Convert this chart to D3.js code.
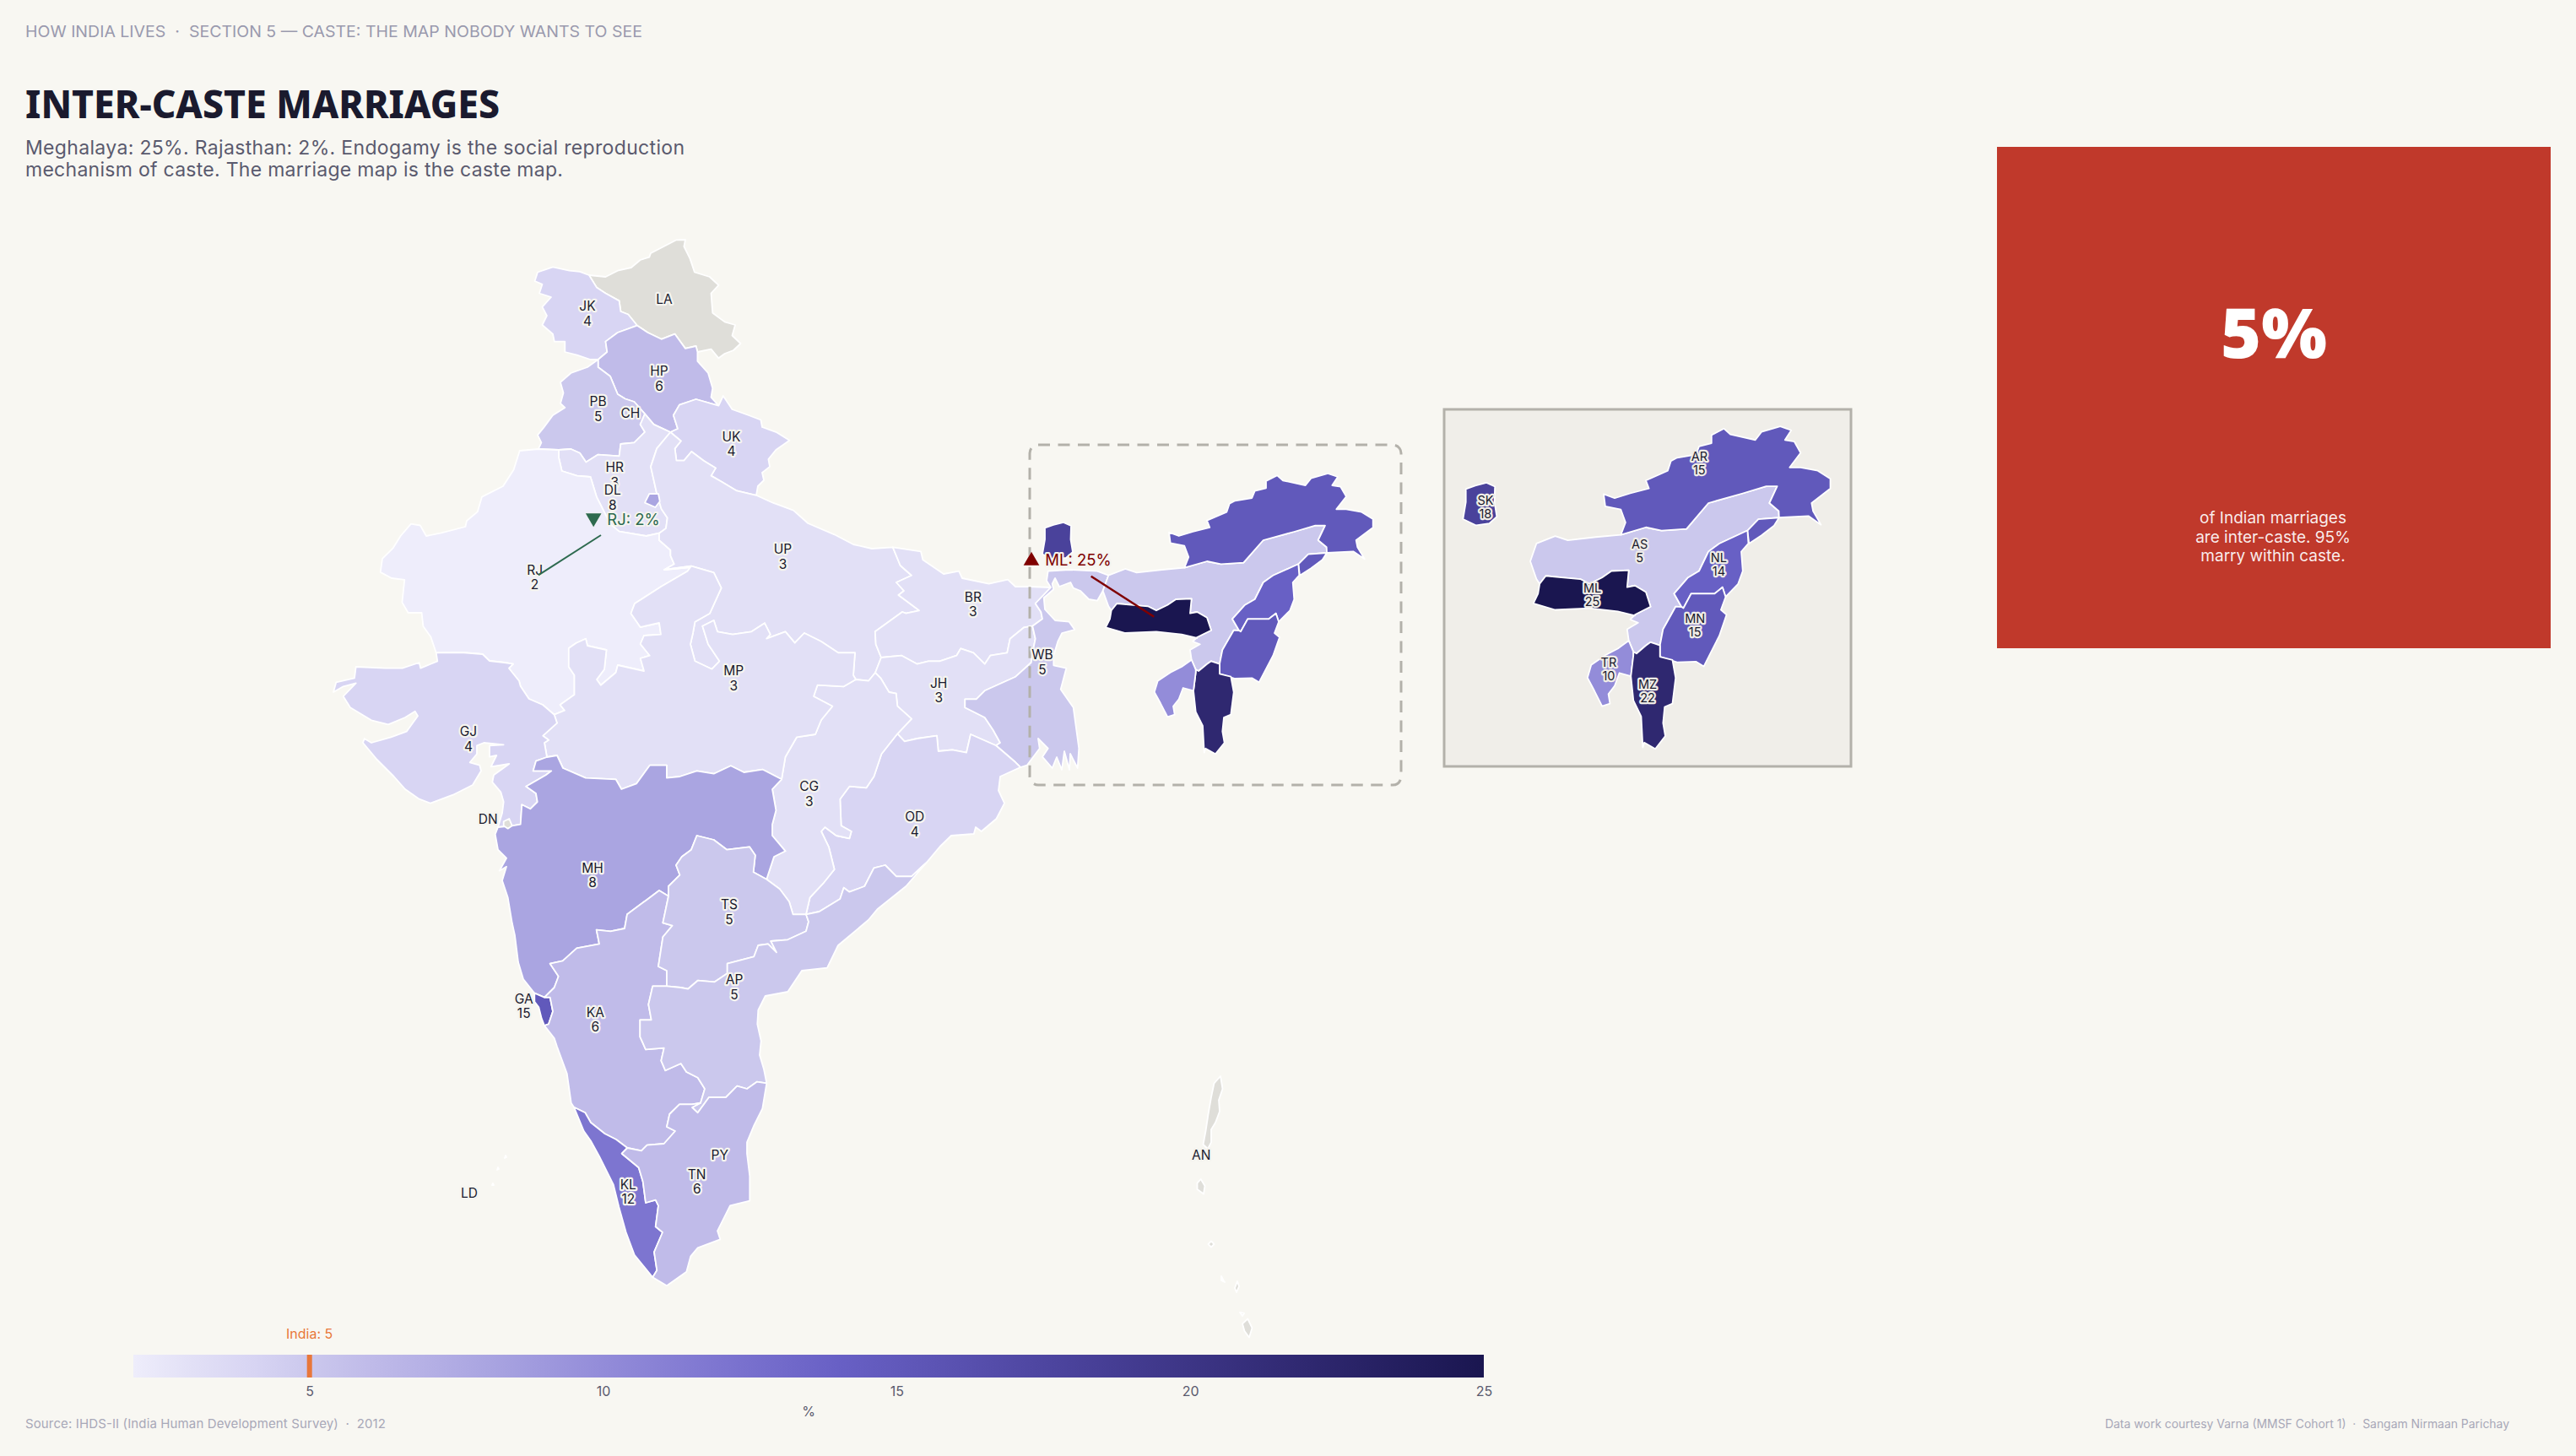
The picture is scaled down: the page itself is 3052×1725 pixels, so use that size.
<!DOCTYPE html>
<html><head><meta charset="utf-8">
<style>html,body{margin:0;padding:0;background:#f8f7f2}svg{display:block}text{font-family:Inter,"Noto Sans",sans-serif}</style>
<script src="https://cdn.jsdelivr.net/npm/d3@7"></script>
</head><body><svg id="c" width="3052" height="1725"></svg>
<script>
// ---- values ----
const codes  = ["JK","HP","PB","UK","HR","DL","RJ","UP","BR","SK","AR","NL","MN","MZ","TR","ML","AS","WB","JH","OD","CG","MP","GJ","MH","GA","KA","TS","AP","KL","TN"];
const values = [4,6,5,4,3,8,2,3,3,18,15,14,15,22,10,25,5,5,3,4,3,3,4,8,15,6,5,5,12,6];
const colorDomain = [2,3,4,5,6,8,10,12,14,15,18,22,25];
const colorRange  = ["#eeedfb","#e2e0f6","#d8d5f3","#cbc8ed","#c0bbe9","#aaa5e1","#938cd9","#7d75d0","#6860c5","#6159bb","#4a429b","#2f2870","#1a1650"];
const legendTicks = [5,10,15,20,25];
const nationalValue = 5;

// ---- boundary arcs (survey units, shared between neighbours) ----
const arcs = {
 jk_w:[[697.9,326],[687,321.8],[674.6,320.7],[655,316.4],[637,322.5],[633.6,333],[642.5,336.8],[639,347.5],[653,352],[642.5,363.6],[647.9,374],[642.5,385],[655,395.7],[656.8,404.6],[669.3,404.6],[669.3,417],[683.6,420.7],[699.6,426],[708.6,426]],
 jk_la:[[697.9,326],[706.8,340.4],[717.5,347.5],[733.6,356.4],[735.4,369],[744.3,372.5],[755,385.7]],
 jk_hp:[[755,385.7],[731.8,394],[717.5,404.6],[719.3,417],[708.6,426]],
 la_o:[[697.9,326],[717.5,328],[731.8,320.7],[747.9,317],[758.6,308],[769.3,304.6],[771,300],[801.4,284.3],[812,284],[810.4,292],[817.5,306.4],[822.9,322.5],[840.7,328],[851.4,337.9],[842.5,347.5],[844.3,370.7],[858.6,381.4],[871,385],[867.5,397.5],[877.5,407],[869,415],[858.6,419],[851.4,424.3],[842.5,413.6],[826.4,417]],
 la_hp:[[826.4,417],[824.6,410],[812,412.9],[799.6,395.7],[783.6,401.8],[767.5,394],[755,385.7]],
 hp_e:[[826.4,417],[826.4,427.9],[839,442],[844.3,460],[842.5,470.7],[851.4,480.7]],
 hp_uk:[[851.4,480.7],[824.6,473],[805,479.6],[797.9,492],[803,508],[794.3,512]],
 hp_hr:[[794.3,512],[774.6,502.9],[764,490.4]],
 hp_pb:[[764,490.4],[751.4,476],[740.7,472.5],[731.8,467],[722.9,445.7],[708.6,435],[708.6,426]],
 pb_o:[[708.6,426],[696,435],[676.4,442],[664,452.9],[667.5,465.4],[664,477.9],[669.3,483],[655,492],[644.3,506.4],[637,515.4],[641.4,524.3],[637.9,532]],
 pb_rj:[[637.9,532],[662,533]],
 pb_hr:[[662,533],[676.4,532],[687,536.8],[694.3,547.5],[708.6,538.6],[733.6,540.4],[735.4,526],[751.4,524.3],[764,511.8],[758.6,502.9],[764,490.4]],
 hr_rj:[[662,533],[662,542],[665.7,558],[683.6,563.6],[699.6,565],[706.8,588.6],[714,602.9],[722.9,620.7],[733.6,629.6],[765.7,635],[781,631.7]],
 hr_up:[[781,631.7],[789,626],[790.7,613.6],[783.6,602.9],[778.2,585],[771,552.9],[778.2,531.4],[794.3,512]],
 uk_o:[[851.4,480.7],[856.8,469],[867.5,485],[887,492],[901.4,497.5],[903,506],[919.3,511.8],[935.4,521.8],[919.3,533],[910.4,544],[912,552.9],[903,560],[905,569],[897.9,576],[896,586.8]],
 uk_up:[[896,586.8],[872.9,581.4],[855,570.7],[842.5,563.6],[847.9,554.6],[833.6,545.7],[819.3,535],[810.4,545.7],[801.4,545.7],[799.6,531.4],[806.8,522.5],[794.3,512]],
 rj_o:[[637.9,532],[615.7,534],[608.6,556.4],[596,576],[571,588.6],[565.7,606.4],[553,617],[551.4,624],[522.9,631.4],[505,635],[497.9,622.5],[487,620.7],[474.6,635],[465.7,649.3],[453,661.8],[450.7,677.9],[464,685],[479.3,686.8],[476.4,713.6],[483.6,726],[499.6,726],[501.4,742],[510.4,754.6],[516.7,773.3]],
 rj_gj:[[516.7,773.3],[546.7,773],[571.7,775],[580,783],[598,785],[608,786.7],[603,791.7],[615,806.7],[616.7,813],[626.7,828],[643,835],[656.7,846.7]],
 rj_mp:[[656.7,846.7],[669,841.7],[663.6,835],[680.5,823],[680.5,800],[673.8,790],[673.8,768],[682.8,761.7],[694,756.7],[696,765],[718.5,770],[716,793],[707,805],[711.8,811.7],[729.6,796.7],[731.9,788],[763,795],[758.7,780],[769.8,776.7],[758.7,763],[763,753],[783,751.7],[781,738],[758.7,743],[747.5,726.7],[752,715],[783.2,695],[814.5,676.7],[818,672],[787,675]],
 rj_up:[[787,675],[798.8,668.3],[794.4,658.3],[794.4,651.7],[781,640],[781,631.7]],
 up_n:[[896,586.8],[915.7,595.7],[940,604.6],[957.3,620],[988.6,633.3],[1011,645],[1033,650],[1057.8,648.3]],
 up_br:[[1057.8,648.3],[1066.7,670],[1080,681.7],[1062,690],[1071,700],[1064.5,705],[1089,723.3],[1073.4,726.7],[1069,725],[1036.8,748.3],[1037.7,763.3],[1044,779]],
 up_jh:[[1044,779],[1037,797]],
 up_cg:[[1037,797],[1029,806.7],[1014,805]],
 up_mp:[[787,675],[819,670.7],[845.7,678.3],[854.6,696.7],[841,726.7],[823.4,736.7],[821,750],[818,763.3],[823.4,783.3],[843.5,792.7],[852.4,783.3],[839,763.3],[832.3,741.7],[845.7,735],[850,748.3],[868,751.7],[890.4,748.3],[906,738.3],[912.7,751.7],[908.2,756.7],[930.5,748.3],[941.7,761.7],[952.9,750],[973,760],[993,773.3],[1013,773.3],[1011,800],[1014,805]],
 br_n:[[1057.8,648.3],[1091,653.3],[1093.4,663.3],[1118,680],[1136,676.7],[1140,685],[1171.6,691.7],[1194,686.7],[1203,695],[1220,695],[1245,696]],
 br_wb:[[1245,696],[1226.7,715],[1233.3,725],[1235,733.3],[1223.3,741.7]],
 br_jh:[[1223.3,741.7],[1213.3,743.3],[1196.7,756.7],[1193.3,773.3],[1173.3,776.7],[1166.7,786.7],[1153.3,773.3],[1138.3,768.3],[1133.3,776.7],[1113.3,783.3],[1100,783.3],[1086.7,786.7],[1068.3,776.7],[1044,779]],
 jh_wb:[[1223.3,741.7],[1226.7,756.7],[1224,770],[1221.7,785],[1203.3,801.7],[1185,810],[1166.7,818.3],[1156.7,828.3],[1143.3,828.3],[1143.3,838.3],[1166.7,850],[1176.7,865],[1185,880],[1180,883.3]],
 jh_od:[[1180,883.3],[1150,870],[1145,891.7],[1128.3,888.3],[1111.7,890],[1110,871.7],[1086.7,875],[1071.7,878.3],[1063.3,869.3]],
 jh_cg:[[1063.3,869.3],[1080,851.7],[1063.3,836.7],[1061.7,821.7],[1053.3,820],[1043.3,803.3],[1037,797]],
 wb_n:[[1245,696],[1240,688],[1241.7,676.7],[1266.7,675],[1300,676.7],[1313.3,681.7]],
 wb_as:[[1313.3,681.7],[1306.7,700]],
 wb_e:[[1306.7,700],[1300,711.7],[1290,710],[1280,700],[1271.7,696.7],[1268.3,690],[1255,695],[1250,685],[1246.7,691.7],[1248.3,698.3],[1236.7,708.3],[1238,722],[1250,735],[1266.7,736.7],[1273.3,746],[1258.3,750],[1253.3,760],[1248.3,776.7],[1248.3,788.3],[1263.3,791.7],[1256.7,816.7],[1271.7,838.3],[1278.3,886.7],[1276.7,910],[1268,893],[1267,912],[1261,890],[1258,912],[1252,897],[1246.7,910],[1235,896.7],[1241.7,886.7],[1230,875],[1231.7,886.7],[1216.7,906.7],[1209,909]],
 wb_od:[[1209,909],[1203.3,903.3],[1191.7,893.3],[1180,883.3]],
 od_c:[[1209,909],[1185,920],[1183,936.7],[1190,951.7],[1180.5,970],[1162.7,985],[1156,980],[1153.8,988],[1127,990],[1113.6,1003],[1098,1021.7]],
 od_ap:[[1098,1021.7],[1091,1028],[1080,1038.3],[1062,1038.3],[1048.8,1025],[1035.4,1028.3],[1024.3,1050],[1006.4,1056.7],[999.7,1051.7],[995.3,1065],[970.7,1080],[955,1083.3]],
 od_cg:[[1063.3,869.3],[1044.4,893.3],[1035.4,920],[1026.5,933.3],[1006.4,931.7],[995.3,946.7],[996.6,978.3],[1008.7,985],[1006.4,993.3],[990.8,990],[977.4,980],[973,985],[981.9,1003.3],[988.6,1030],[975.2,1046.7],[959.6,1063.3],[955,1083.3]],
 cg_mp:[[1014,805],[999.7,813.3],[968.5,811.7],[964,825],[986.3,836.7],[973,853],[966,870],[944,873.3],[930.5,896.7],[926,923.3]],
 cg_mh:[[926,923.3],[915,935],[919.4,960],[915,976.7],[915,990],[930.5,1008.3],[917,1015],[908.2,1041.7]],
 cg_ts:[[908.2,1041.7],[923.8,1053.3],[935,1068.3],[939.5,1083.3],[955,1083.3]],
 mp_mh:[[926,923.3],[903.8,911.7],[881.4,915],[865.8,907.3],[845.7,916.7],[825.6,913.3],[805.5,920],[789.9,921.7],[789.9,906.7],[769.8,906.7],[754.2,928.3],[736.3,935],[729.6,923.3],[693.9,921.7],[667,910],[660,895],[648,897]],
 mp_gj:[[656.7,846.7],[660,856.7],[643.3,871.7],[650,876.7],[645,880],[648,897]],
 gj_c:[[590,980],[595,963.3],[596.7,950],[593.3,938.3],[583.3,926.7],[585,918.3],[603.3,905],[581.7,908.3],[588.3,895],[580,896.7],[580,883.3],[596.7,882.3],[573.3,880],[565,883.3],[565,893.3],[556.7,903.3],[568.3,906.7],[570,913.3],[560,930],[536.7,941.7],[510,951.7],[496.7,946.7],[480,935],[466.7,920],[446.7,900],[430,880],[431.7,875],[440,880],[463.3,873.3],[481.7,866.7],[495,848.3],[491.7,842.7],[480,850],[460,858.3],[440,853.3],[415,838.3],[406.7,825],[421.7,809.3],[406.7,813.3],[395,820],[398.3,808.3],[420,803.3],[421.7,790],[456.7,791.7],[476.7,791.7],[496.7,785],[498.3,791.7],[518.3,783.3],[516.7,773.3]],
 gj_mh:[[648,897],[635,901.7],[631.7,913.3],[653.3,913.3],[646.7,918.3],[623.3,931.7],[635,940],[636.7,950],[628.3,958.3],[618.3,953.3],[616.7,976.7],[606.7,978.3],[590,980]],
 mh_c:[[590,980],[586.7,988.3],[590,1006.7],[600,1016.7],[591.7,1031.7],[600,1026.7],[595,1043.3],[601.7,1063.3],[606.7,1093.3],[610,1108.3],[614,1140],[620,1160],[633.3,1176.7]],
 mh_ga:[[633.3,1176.7],[645,1181.7]],
 mh_ka:[[645,1181.7],[656.7,1170],[661.7,1156.7],[651.7,1141.7],[666.7,1138.3],[683.3,1123.3],[710,1118.3],[706.7,1101.7],[723.3,1103.3],[740,1100],[743,1083.3],[765.4,1066.7],[781,1055],[792,1061.7]],
 mh_ts:[[792,1061.7],[792,1050],[805.5,1036.7],[801,1025],[807.8,1015],[819,1006.7],[825.6,990],[845.7,995],[861.3,1006.7],[888,1003.3],[894.8,1013.3],[892.6,1033.3],[908.2,1041.7]],
 ga_c:[[633.3,1176.7],[633.3,1186.7],[638.3,1193.3],[641.7,1206.7],[645,1215]],
 ga_ka:[[645,1181.7],[651.7,1181.7],[655,1198.3],[650,1213.3],[645,1215]],
 ka_c:[[645,1215],[656.7,1230],[660,1240],[671.7,1271.7],[676.7,1306.7],[680,1311.7]],
 ka_kl:[[680,1311.7],[693.3,1318.3],[700,1330],[716.7,1343.3],[730,1350],[743.3,1360]],
 ka_tn:[[743.3,1360],[760,1363.3],[766.7,1356.7],[786.7,1355],[800,1340],[790,1335],[793.3,1320],[805,1308.3],[820,1308.3],[830,1306.7]],
 ka_ap:[[790,1168.3],[773.3,1168.3],[768.3,1190],[771.7,1208.3],[758.3,1208.3],[758.3,1228.3],[765,1243.3],[786.7,1241.7],[783.3,1256.7],[788.3,1268.3],[806.7,1260],[813.3,1270],[826.7,1276.7],[835,1290],[830,1306.7]],
 ts_ka:[[792,1061.7],[785.4,1093.3],[796.6,1096.7],[785.4,1110],[780,1145],[790,1150],[790,1168.3]],
 ts_ap:[[790,1168.3],[806.7,1170],[815,1171.7],[826.7,1161.7],[846.7,1163.3],[861.7,1153.3],[861.7,1141.7],[893.3,1133.3],[898.3,1120],[910,1118.3],[920,1128.3],[913.3,1115],[933.3,1113.3],[955,1103.3],[958,1092],[955,1083.3]],
 ap_c:[[1098,1021.7],[1073.4,1050],[1040,1076.7],[1028.8,1090],[993,1120],[980,1146.7],[950,1150],[933.3,1175],[906.7,1180],[898.3,1196.7],[897.3,1213.3],[901.7,1233.3],[900,1250],[905,1266.7],[908.3,1283.3]],
 ap_tn:[[908.3,1283.3],[896.7,1281.7],[885,1290],[873.3,1286.7],[860,1300],[840,1300],[826.7,1318.3],[820,1312],[830,1306.7]],
 kl_c:[[680,1311.7],[691.7,1340],[700,1351.7],[710,1370],[726.7,1403.3],[733.3,1430],[741.7,1460],[751.7,1486.7],[773.3,1513.3]],
 kl_tn:[[773.3,1513.3],[778.3,1505],[775,1483.3],[785,1460],[776.7,1453.3],[780,1428.3],[776.7,1421.7],[765,1425],[761.7,1400],[756.7,1383.3],[736.7,1366.7],[743.3,1360]],
 tn_c:[[773.3,1513.3],[790,1523.3],[813.3,1506.7],[818.3,1488.3],[826.7,1478.3],[853.3,1468.3],[850,1458.3],[865,1428.3],[888.3,1422.7],[888.3,1393.3],[885,1366.7],[885,1353.3],[893.3,1333.3],[903.3,1313.3],[908.3,1283.3]],
 as_top:[[1313.3,681.7],[1333.3,674],[1346.7,678.3],[1376.7,675],[1403.3,672.7]],
 as_ar1:[[1403.3,672.7],[1430,665],[1446.7,668.3],[1473.3,666.7],[1496.7,640],[1533.3,630],[1558.3,622.7],[1570,622.7],[1561.7,640],[1571.7,648.3],[1570,654]],
 as_ar2:[[1570,654],[1550,656.7],[1538.3,668.3]],
 as_nl:[[1538.3,668.3],[1508.3,681.7],[1496.7,690],[1486.7,710],[1475,716.7],[1460,733.3],[1468,747]],
 as_mn:[[1468,747],[1461.7,746.7],[1448.3,770],[1445,786.7]],
 as_mz:[[1445,786.7],[1435,783.3],[1430,786.7],[1420,795],[1416.7,793.3]],
 as_tr:[[1416.7,793.3],[1411.7,781.7]],
 as_b:[[1411.7,781.7],[1410,770],[1421.7,763.3],[1413.3,760],[1418.3,755]],
 as_ml:[[1418.3,755],[1435,746.7],[1430,731.7],[1418.3,725],[1410,726.7],[1411.7,709.3],[1393.3,710],[1383.3,716.7],[1370,723.3],[1360,718.3],[1340,716.7],[1323.3,715],[1316.7,723.3]],
 as_w:[[1316.7,723.3],[1313.3,718.3],[1306.7,700]],
 ml_s:[[1316.7,723.3],[1315,733.3],[1310,743.3],[1333.3,750],[1370,748.3],[1400,751.7],[1418.3,756],[1418.3,755]],
 ar_o:[[1403.3,672.7],[1408.3,660],[1403.3,646.7],[1386.7,643.3],[1385,630.7],[1396.7,635],[1413.3,630],[1433.3,625],[1430,616.7],[1453.3,606.7],[1456.7,596.7],[1463.3,593.3],[1483.3,590],[1486.7,581.7],[1500,578.3],[1500,570],[1513.3,563.3],[1520,569.3],[1546.7,575],[1553.3,566.7],[1573.3,561],[1585,565],[1578.3,575],[1588.3,576.7],[1595,588.3],[1583.3,603.3],[1595,603.3],[1613.3,606.7],[1626.7,615],[1626.7,625],[1606.7,640],[1608.3,648.3],[1616.7,662.3],[1603.3,653.3],[1572,655]],
 ar_l:[[1572,655],[1566.7,663.3],[1553.3,673.3],[1540,681.7],[1538.3,668.3]],
 nl_e:[[1538.3,668.3],[1539.3,681.7],[1531.7,690],[1533.3,710],[1528.3,723.3],[1515,736.7]],
 nl_mn:[[1468,747],[1470,748.3],[1478.3,733.3],[1503.3,733.3],[1511.7,726.7],[1515,736.7]],
 mn_o:[[1515,736.7],[1510,750],[1516,755],[1508.3,776.7],[1491.7,808.3],[1483.3,803.3],[1463.3,804],[1445,798.3]],
 mn_mz:[[1445,798.3],[1445,786.7]],
 mz_o:[[1445,798.3],[1458.3,801.7],[1461.7,820],[1458.3,846.7],[1450,850],[1448.3,866.7],[1450.7,880],[1440,893.3],[1428.3,886.7],[1426.7,891.7],[1425,860],[1416.7,843.3],[1414,818.3]],
 mz_tr:[[1414,818.3],[1416.7,796.7],[1416.7,793.3]],
 tr_o:[[1414,818.3],[1401.7,815],[1396.7,828.3],[1390,836.7],[1391.7,846.7],[1383.3,849.3],[1375,833.3],[1367.7,820],[1371.7,806.7],[1386.7,796.7],[1400,790],[1411.7,781.7]],
 sk_o:[[1238,625.5],[1248,622],[1260,619],[1269,623],[1268.5,639],[1271,654],[1263,661],[1249,663],[1235,656.5],[1238,639],[1238,625.5]],
 dl_o:[[764,595.7],[769.3,585],[780,585],[781.8,594],[776.4,601],[764,595.7]],
 dn_o:[[596.7,973.3],[603.3,970],[606.7,978.3],[601.7,981.7],[596.7,978.3],[596.7,973.3]],
 an1:[[1446,1275],[1448.5,1290],[1444,1303.3],[1445,1316.7],[1440,1330],[1435,1338.3],[1435,1353.3],[1431,1361],[1425.5,1356],[1428.5,1340],[1431.5,1320],[1435,1300],[1438.5,1283.3],[1446,1275]],
 an2:[[1422.7,1397],[1427.5,1405],[1426,1414.5],[1418.5,1409],[1418.5,1401.7],[1422.7,1397]],
 an3:[[1435,1470.5],[1438.5,1474],[1435,1477.5],[1431.5,1474],[1435,1470.5]],
 an4:[[1478.3,1562.5],[1483.5,1573.3],[1480,1584.5],[1474.5,1577],[1472,1568.3],[1478.3,1562.5]],
 an5:[[1447,1512],[1450,1518],[1451,1519],[1447,1517],[1447,1512]],
 an6:[[1466,1518],[1468,1524],[1465,1531],[1463,1526],[1466,1518]],
 an7:[[1469,1555],[1474,1556],[1472,1559],[1469,1555]],
 ld1:[[590,1383],[591,1385],[589,1386],[590,1383]],
 ld2:[[599,1369],[600,1371],[598,1372],[599,1369]],
 ld3:[[584,1402],[585,1404],[583,1404],[584,1402]]
};
arcs.as_ar1 = arcs.as_ar1.slice(0,-1).concat([[1572,655]]);
arcs.as_ar2 = [[1572,655],[1550,656.7],[1538.3,668.3]];
const rings = {
 JK:["jk_w","-jk_hp","-jk_la"],
 LA:["la_o","la_hp","-jk_la"],
 HP:["hp_e","hp_uk","hp_hr","hp_pb","-jk_hp","-la_hp"],
 PB:["pb_o","pb_rj","pb_hr","hp_pb"],
 HR:["hr_rj","hr_up","hp_hr","-pb_hr"],
 UK:["uk_o","uk_up","-hp_uk"],
 RJ:["rj_o","rj_gj","rj_mp","rj_up","-hr_rj","-pb_rj"],
 UP:["up_n","up_br","up_jh","up_cg","-up_mp","rj_up","hr_up","-uk_up"],
 BR:["br_n","br_wb","br_jh","-up_br"],
 JH:["jh_wb","jh_od","jh_cg","-up_jh","-br_jh"],
 WB:["wb_n","wb_as","wb_e","wb_od","-jh_wb","-br_wb"],
 OD:["jh_od","od_cg","-od_ap","-od_c","wb_od"],
 CG:["-up_cg","-jh_cg","od_cg","-cg_ts","-cg_mh","-cg_mp"],
 MP:["rj_mp","up_mp","cg_mp","mp_mh","-mp_gj"],
 GJ:["gj_c","rj_gj","mp_gj","gj_mh"],
 MH:["mh_c","mh_ga","mh_ka","mh_ts","-cg_mh","mp_mh","gj_mh"],
 GA:["ga_c","-ga_ka","-mh_ga"],
 KA:["ga_ka","ka_c","ka_kl","ka_tn","-ka_ap","-ts_ka","-mh_ka"],
 TS:["ts_ka","ts_ap","-cg_ts","-mh_ts"],
 AP:["ap_c","ap_tn","-ka_ap","ts_ap","-od_ap"],
 KL:["kl_c","kl_tn","-ka_kl"],
 TN:["tn_c","ap_tn","-ka_tn","-kl_tn"],
 AS:["as_top","as_ar1","as_ar2","as_nl","as_mn","as_mz","as_tr","as_b","as_ml","as_w","-wb_as"],
 AR:["ar_o","ar_l","-as_ar2","-as_ar1"],
 NL:["nl_e","-nl_mn","-as_nl"],
 MN:["-as_mn","nl_mn","mn_o","mn_mz"],
 MZ:["mz_o","mz_tr","-as_mz","-mn_mz"],
 TR:["tr_o","-as_tr","-mz_tr"],
 ML:["as_ml","ml_s"],
 SK:["sk_o"],DL:["dl_o"],DN:["dn_o"],
 AN1:["an1"],AN2:["an2"],AN3:["an3"],AN4:["an4"],AN5:["an5"],AN6:["an6"],AN7:["an7"],
 LD1:["ld1"],LD2:["ld2"],LD3:["ld3"]
};
const insetCodes = ["SK","AS","AR","NL","MN","ML","TR","MZ"];

// ---- label anchors ----
const mainLabels = [["JK","4",696,362.5],["LA",null,787,354],["HP","6",781,439.6],["PB","5",708.6,475.4],["CH",null,746.8,489.6],["UK","4",866.4,517],["HR","3",728.2,553.6],["DL","8",725.7,580.7],["RJ","2",633.6,675],["UP","3",927.5,650.4],["MP","3",869.3,794.6],["BR","3",1152.9,707.3],["JH","3",1112.2,809.3],["WB","5",1235,775.7],["GJ","4",555,866.7],["DN",null,578.3,970],["MH","8",702,1028.3],["CG","3",958.7,931.7],["OD","4",1083.7,967.7],["TS","5",864,1071.7],["AP","5",870,1160.7],["GA","15",620.7,1183.3],["KA","6",705.3,1199.3],["PY",null,852.7,1368.3],["TN","6",825.7,1391.3],["KL","12",744.3,1403.3],["LD",null,556,1413],["AN",null,1423.3,1368.3]];
const insetLabels = [["AR","15",2013.3,541],["SK","18",1759.9,592.7],["AS","5",1942.7,644.3],["NL","14",2036.4,660.3],["ML","25",1886.6,696.7],["MN","15",2008.2,732.7],["TR","10",1905.9,784.7],["MZ","22",1952,810.7]];

// ---- build ----
const svg = d3.select("#c");
const BG = "#f8f7f2", INK="#1a1a2e";
const color = d3.scaleLinear().domain(colorDomain).range(colorRange).clamp(true);
const valueOf = new Map(codes.map((c,i)=>[c,values[i]]));
function ringCoords(names){
  const out=[];
  names.forEach(n=>{
    const rev=n[0]==="-"; const a=arcs[rev?n.slice(1):n];
    const pts=rev?a.slice().reverse():a;
    pts.forEach(p=>{const l=out[out.length-1]; if(!l||l[0]!==p[0]||l[1]!==p[1]) out.push(p);});
  });
  const f=out[0],l=out[out.length-1]; if(f[0]!==l[0]||f[1]!==l[1]) out.push(f);
  return out;
}
const feature = c => ({type:"Feature",id:c,geometry:{type:"Polygon",coordinates:[ringCoords(rings[c])]}});
const order = ["LA","JK","HP","PB","HR","UK","RJ","UP","BR","JH","WB","OD","CG","MP","GJ","MH","GA","KA","TS","AP","KL","TN","AS","AR","NL","MN","MZ","TR","ML","SK","DL","DN","AN1","AN2","AN3","AN4","AN5","AN6","AN7","LD1","LD2","LD3"];
const fillOf = c => valueOf.has(c) ? color(valueOf.get(c)) : "#dfded9";
const lin = (sx,sy,tx,ty)=>d3.geoTransform({point(x,y){this.stream.point(sx*x+tx,sy*y+ty);}});
const mainPath = d3.geoPath(lin(1,1,0,0));
const insetPath = d3.geoPath(lin(1.111,1.15,361.3,-140));

const T=(x,y,s,size,fill,extra={})=>{const t=svg.append("text").attr("x",x).attr("y",y).attr("font-size",size).attr("fill",fill).text(s);Object.entries(extra).forEach(([k,v])=>t.attr(k,v));return t;};
svg.append("rect").attr("width",3052).attr("height",1725).attr("fill",BG);
T(30,44,"HOW INDIA LIVES  ·  SECTION 5 — CASTE: THE MAP NOBODY WANTS TO SEE",19,"#9a9aae",{textLength:731,lengthAdjust:"spacingAndGlyphs","xml:space":"preserve"});
T(30,140,"INTER-CASTE MARRIAGES",47,INK,{"font-weight":800,textLength:562,lengthAdjust:"spacingAndGlyphs"}).style("font-family","'Noto Sans'");
T(30,183,"Meghalaya: 25%. Rajasthan: 2%. Endogamy is the social reproduction",23,"#5a5a6e",{textLength:781});
T(30,209,"mechanism of caste. The marriage map is the caste map.",23,"#5a5a6e",{textLength:637});

// main map
svg.append("g").selectAll("path").data(order.map(feature)).join("path")
  .attr("d",mainPath).attr("fill",d=>fillOf(d.id)).attr("stroke","#fff").attr("stroke-width",1.8).attr("stroke-linejoin","round");

// zoom box
svg.append("rect").attr("x",1220).attr("y",527).attr("width",440).attr("height",403).attr("rx",10)
  .attr("fill","none").attr("stroke","#b3b1aa").attr("stroke-width",3).attr("stroke-dasharray","14 9.5");

// inset
svg.append("rect").attr("x",1711).attr("y",485).attr("width",482).attr("height",423)
  .attr("fill","#f0eee9").attr("stroke","#b3b1aa").attr("stroke-width",3);
svg.append("g").selectAll("path").data(insetCodes.map(feature)).join("path")
  .attr("d",insetPath).attr("fill",d=>fillOf(d.id)).attr("stroke","#fff").attr("stroke-width",1.8).attr("stroke-linejoin","round");

// state labels
function stateLabels(list,size,lead,halo){
  const g=svg.append("g").attr("text-anchor","middle").attr("font-size",size).attr("fill",INK)
    .attr("stroke",halo).attr("stroke-width",4.5).attr("stroke-linejoin","round").attr("paint-order","stroke");
  list.forEach(([code,val,x,y])=>{
    g.append("text").attr("x",x).attr("y",y).attr("dy","0.36em").text(code);
    if(val!==null) g.append("text").attr("x",x).attr("y",y+lead).attr("dy","0.36em").text(val);
  });
}
stateLabels(mainLabels,15.5,17.6,"#f5f4ef");
stateLabels(insetLabels,14.5,16.1,"#efece7");

// callouts
function callout(sym,rot,cx,cy,col,txt,tx,ty,x1,y1,x2,y2,w){
  svg.append("line").attr("x1",x1).attr("y1",y1).attr("x2",x2).attr("y2",y2).attr("stroke",col).attr("stroke-width",w);
  svg.append("path").attr("d",d3.symbol(d3.symbolTriangle,sym)()).attr("transform",`translate(${cx},${cy}) rotate(${rot})`).attr("fill",col)
    .attr("stroke","#f5f4ef").attr("stroke-width",1).attr("paint-order","stroke");
  T(tx,ty,txt,18.5,col,{stroke:"#f5f4ef","stroke-width":4,"stroke-linejoin":"round","paint-order":"stroke",dy:"0.36em"});
}
callout(150,180,703.2,613.5,"#2d6a4f","RJ: 2%",719.3,615,712,634,637.9,681.4,2);
callout(150,0,1222,664.5,"#7f0000","ML: 25%",1238.3,663.3,1292.7,682.7,1367.3,730.7,2.5);

// legend
const lx = d3.scaleLinear().domain([2,25]).range([158,1758]);
const defs = svg.append("defs"); const grad = defs.append("linearGradient").attr("id","lg");
colorDomain.forEach((v,i)=>grad.append("stop").attr("offset",(v-2)/23).attr("stop-color",colorRange[i]));
svg.append("rect").attr("x",lx(2)).attr("y",1605).attr("width",lx(25)-lx(2)).attr("height",27).attr("fill","url(#lg)");
svg.append("rect").attr("x",lx(nationalValue)-3).attr("y",1605).attr("width",6).attr("height",27).attr("fill","#e8773a");
T(lx(nationalValue),1586,"India: "+nationalValue,16,"#e8773a",{"text-anchor":"middle"});
const ax = svg.append("g").attr("transform","translate(0,1632)").call(d3.axisBottom(lx).tickValues(legendTicks).tickSize(0).tickPadding(11).tickFormat(d3.format("d")));
ax.select(".domain").remove();
ax.selectAll("text").attr("font-size",16).attr("fill","#5a5a6e").style("font-family","Inter");
T(958,1672,"%",16,"#5a5a6e",{"text-anchor":"middle","dy":"0.36em"});

// footer
T(30,1692,"Source: IHDS-II (India Human Development Survey)  ·  2012",15,"#a8a8b8",{"xml:space":"preserve",textLength:427});
T(2973,1692,"Data work courtesy Varna (MMSF Cohort 1)  ·  Sangam Nirmaan Parichay",14,"#a8a8b8",{"text-anchor":"end","xml:space":"preserve",textLength:479,lengthAdjust:"spacingAndGlyphs"});

// card
svg.append("rect").attr("x",2366).attr("y",174).attr("width",656).attr("height",594).attr("fill","#c0392b");
T(2694,424,"5%",82,"#fff",{"text-anchor":"middle","font-weight":900}).style("font-family","'Noto Sans'");
["of Indian marriages","are inter-caste. 95%","marry within caste."].forEach((s,i)=>T(2693,620+i*22.5,s,19,"#fff",{"text-anchor":"middle","fill-opacity":0.92}));
</script></body></html>
